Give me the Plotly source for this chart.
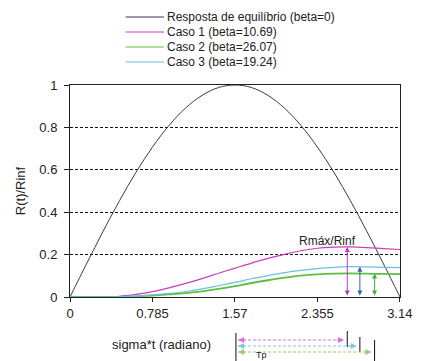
import plotly.graph_objects as go

# sigma*t sample points (radians)
sigma_t = [0.0, 0.157, 0.314, 0.471, 0.628, 0.785, 0.942, 1.100, 1.257, 1.414, 1.571,
           1.728, 1.885, 2.042, 2.199, 2.356, 2.513, 2.670, 2.827, 2.985, 3.142]

equilibrio = [0.0, 0.156, 0.309, 0.454, 0.588, 0.707, 0.809, 0.891, 0.951, 0.988, 1.0,
              0.988, 0.951, 0.891, 0.809, 0.707, 0.588, 0.454, 0.309, 0.156, 0.0]
caso_1 = [0.0, 0.0, 0.0, 0.003, 0.012, 0.025, 0.043, 0.064, 0.087, 0.112, 0.136,
          0.160, 0.182, 0.201, 0.218, 0.230, 0.235, 0.236, 0.233, 0.228, 0.224]
caso_2 = [0.0, 0.0, 0.0, 0.001, 0.003, 0.007, 0.012, 0.018, 0.027, 0.038, 0.051,
          0.066, 0.079, 0.091, 0.101, 0.107, 0.110, 0.111, 0.110, 0.109, 0.108]
caso_3 = [0.0, 0.0, 0.0, 0.001, 0.004, 0.010, 0.017, 0.026, 0.038, 0.053, 0.069,
          0.086, 0.101, 0.115, 0.126, 0.134, 0.140, 0.143, 0.142, 0.140, 0.139]

names = ['Resposta de equilíbrio (beta=0)', 'Caso 1 (beta=10.69)',
         'Caso 2 (beta=26.07)', 'Caso 3 (beta=19.24)']
colors = ['#3b3466', '#cc3cc0', '#5cc03c', '#70bede']
widths = [1, 1.2, 1.8, 1.2]

# where Rmax is marked (order: caso 1, caso 3, caso 2)
rmax_x = [2.64, 2.76, 2.90]
rmax_y = [0.236, 0.143, 0.111]
rmax_colors = ['#b03cc0', '#3a5cc0', '#3cb43c']
tp_colors = ['#e070dc', '#80c8e0', '#94d070']
tp_start = 1.58

x_ticks = [0, 0.785, 1.57, 2.355, 3.14]
y_ticks = [0, 0.2, 0.4, 0.6, 0.8, 1]

FONT = 'Liberation Sans, Arial, sans-serif'

fig = go.Figure()
for name, ys, c, w in zip(names, [equilibrio, caso_1, caso_2, caso_3], colors, widths):
    fig.add_trace(go.Scatter(x=sigma_t, y=ys, mode='lines', name=name,
                             line=dict(color=c, width=w, shape='spline'),
                             showlegend=False))

# hand made legend (rows are tighter than plotly's legend allows)
pw, ph = 344, 212
for i, (name, c) in enumerate(zip(names, colors)):
    ypx = 17 + 15 * i
    yp = (297 - ypx) / ph
    fig.add_shape(type='line', xref='paper', yref='paper',
                  x0=(123 - 65) / pw, x1=(163 - 65) / pw, y0=yp, y1=yp,
                  line=dict(color=c, width=1.2))
    fig.add_annotation(xref='paper', yref='paper', x=(164 - 65) / pw, y=yp,
                       text=name, showarrow=False, xanchor='left', yanchor='middle',
                       font=dict(size=12, color='#222'))

# vertical Rmax arrows
for xv, yv, c in zip(rmax_x, rmax_y, rmax_colors):
    fig.add_annotation(x=xv, y=yv, ax=xv, ay=0, xref='x', yref='y', axref='x', ayref='y',
                       text='', showarrow=True, arrowside='end+start', arrowhead=2,
                       arrowsize=1, arrowwidth=1, arrowcolor=c)

fig.add_annotation(x=2.45, y=0.265, text='Rmáx/Rinf', showarrow=False,
                   font=dict(size=12, color='#222'))

# dashed arrows below the axis (time to Rmax)
arrow_y = [(297 - 340) / ph, (297 - 346) / ph, (297 - 352) / ph]
tick_spans = [(331, 347), (337, 352), (340, 365)]
for xv, yp, c, (t0, t1) in zip(rmax_x, arrow_y, tp_colors, tick_spans):
    fig.add_shape(type='line', xref='x', yref='paper', x0=tp_start + 0.02, x1=xv - 0.04,
                  y0=yp, y1=yp, line=dict(color=c, width=1, dash='3px,2px'))
    fig.add_annotation(x=xv - 0.03, y=yp, xref='x', yref='paper', ax=-9, ay=0,
                       text='', showarrow=True, arrowhead=2, arrowsize=1.2,
                       arrowwidth=1, arrowcolor=c)
    fig.add_annotation(x=tp_start + 0.02, y=yp, xref='x', yref='paper', ax=9, ay=0,
                       text='', showarrow=True, arrowhead=2, arrowsize=1.2,
                       arrowwidth=1, arrowcolor=c)
    fig.add_shape(type='line', xref='x', yref='paper', x0=xv, x1=xv,
                  y0=(297 - t0) / ph, y1=(297 - t1) / ph, line=dict(color='#111', width=1))

fig.add_shape(type='line', xref='x', yref='paper', x0=tp_start, x1=tp_start,
              y0=(297 - 333) / ph, y1=(297 - 370) / ph, line=dict(color='#111', width=1))
fig.add_annotation(x=1.75, y=(297 - 362) / ph, xref='x', yref='paper', text='Tp',
                   showarrow=False, xanchor='left', yanchor='bottom',
                   font=dict(size=9, color='#222'))

fig.add_annotation(x=0.87, y=(297 - 344) / ph, xref='x', yref='paper',
                   text='sigma*t (radiano)', showarrow=False, yanchor='middle',
                   font=dict(size=13, color='#222'))

# the page body adds an 8px offset, so the figure is 8px smaller each way
fig.update_layout(
    width=416, height=353,
    margin=dict(l=57, r=15, t=77, b=64),
    plot_bgcolor='white', paper_bgcolor='white',
    font=dict(family=FONT, size=12, color='#222'),
    showlegend=False,
)
fig.update_xaxes(range=[0, 3.142], tickvals=x_ticks, ticktext=['0', '0.785', '1.57', '2.355', '3.14'],
                 showgrid=False, zeroline=False, showline=True, mirror=True,
                 linecolor='#222', linewidth=1, ticks='outside', ticklen=4,
                 tickcolor='#222', tickfont=dict(size=13))
fig.update_yaxes(range=[0, 1], tickvals=y_ticks, showgrid=True, gridcolor='#111',
                 griddash='3px,2px', gridwidth=1, zeroline=False, showline=True, mirror=True,
                 linecolor='#222', linewidth=1, ticks='outside', ticklen=5,
                 tickcolor='#222', tickfont=dict(size=13), ticklabelstandoff=4,
                 title=dict(text='R(t)/Rinf', font=dict(size=13), standoff=10))

fig.write_html("out.html")
